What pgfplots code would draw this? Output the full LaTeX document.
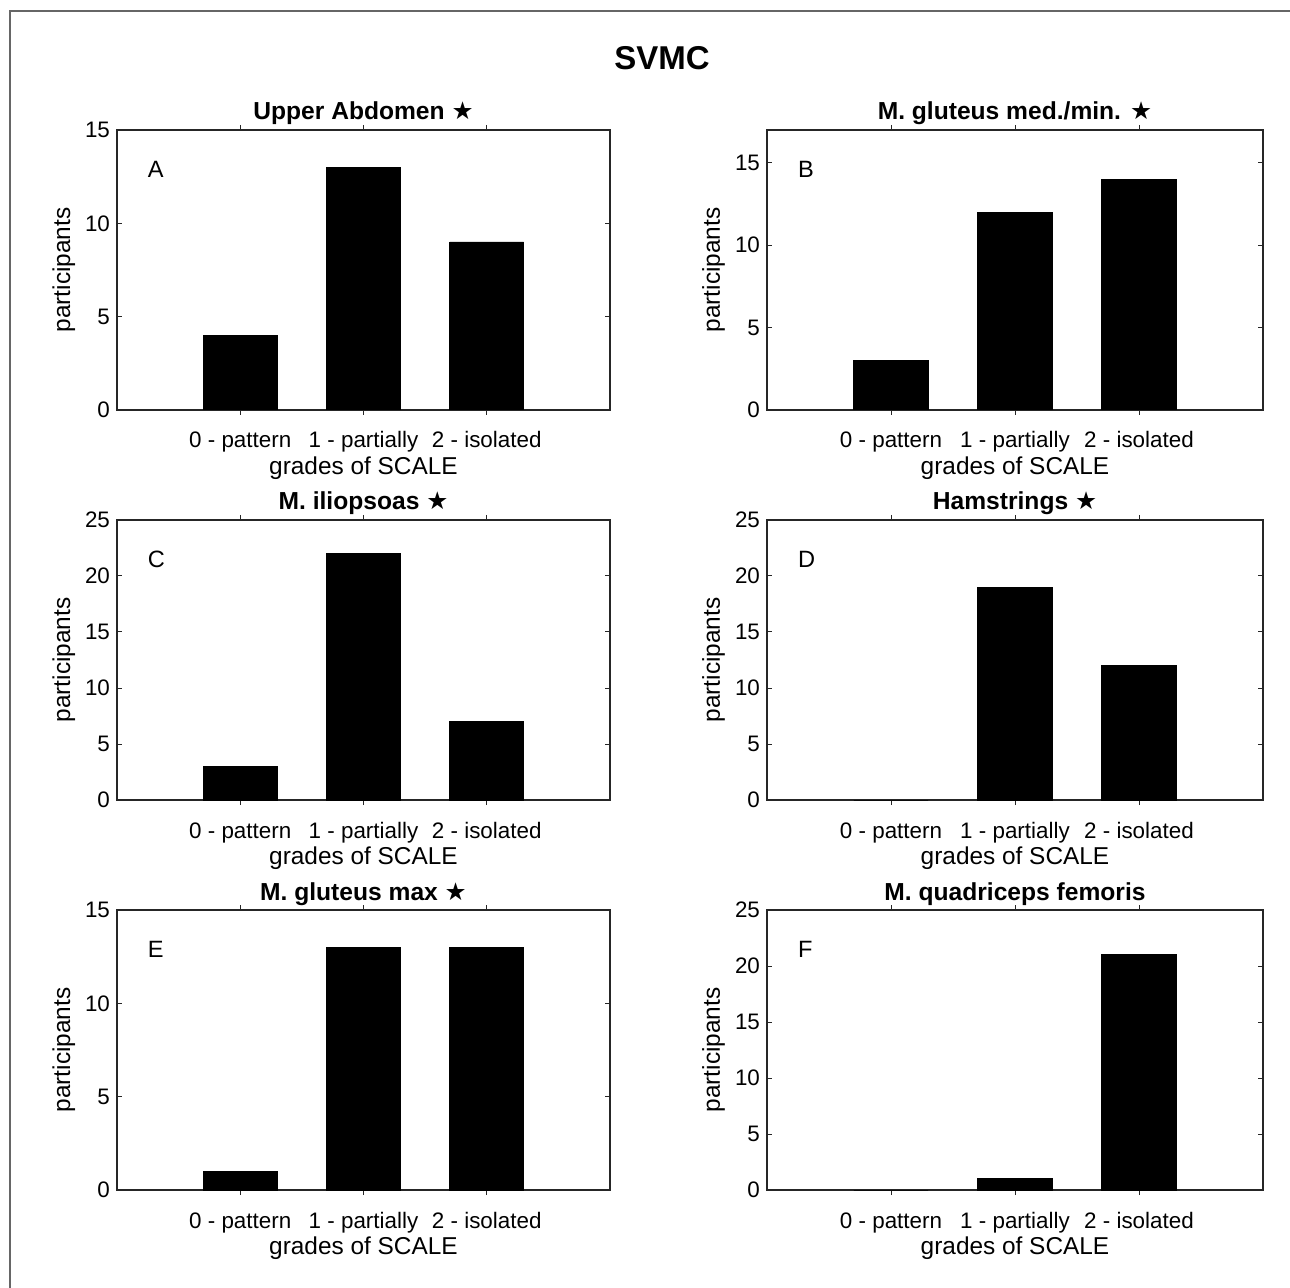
\documentclass[border=0pt]{standalone}
\usepackage{fontspec}
\setmainfont{Liberation Sans}
\newfontfamily\sym{DejaVu Sans}
\usepackage{pgfplots}
\pgfplotsset{compat=1.18}

\pgfplotsset{
  panel/.style={
    scale only axis,
    anchor=north west,
    height=140pt,
    xmin=0, xmax=4,
    ymin=0,
    axis line style={black!85, line width=0.6pt},
    tick style={black!85, line width=0.5pt},
    major tick length=2.5pt,
    xtick={1,2,3},
    xticklabels={0 - pattern, 1 - partially, 2 - isolated},
    xticklabel style={anchor=base, yshift=-16.5pt},
    /pgf/number format/assume math mode=true,
    ticklabel style={font=\fontsize{11.2}{13}\selectfont},
    label style={font=\fontsize{12.2}{14}\selectfont},
    xlabel={grades of SCALE},
    ylabel={participants},
    xlabel style={at={(axis description cs:0.5,-0.232)}, anchor=base},
    ylabel style={at={(axis description cs:-0.095,0.5)}, anchor=base},
    every axis title/.style={at={(0.5,1)}, anchor=base, yshift=5pt,
      font=\bfseries\fontsize{12.3}{14}\selectfont},
    ybar, bar width=0.6, bar shift=0pt,
  },
  blk/.style={fill=black, draw=black},
}
\newcommand{\letter}[1]{\node[anchor=west, inner sep=0pt,
  font=\fontsize{11.8}{13}\selectfont] at (axis description cs:0.062,0.86) {#1};}

\begin{document}
\begin{tikzpicture}
\useasboundingbox (0,0) rectangle (645pt,-644pt);
\draw[black!60, line width=1pt] (5pt,-644pt) -- (5pt,-5.5pt) -- (645pt,-5.5pt);
\node[anchor=base, font=\bfseries\fontsize{16.5}{19}\selectfont] at (331pt,-35pt) {SVMC};

% A
\begin{axis}[panel, at={(58.5pt,-65pt)}, width=246.5pt, ymax=15, ytick={0,5,10,15},
  title={Upper Abdomen {\sym ★}}]
\addplot[blk] coordinates {(1,4) (2,13) (3,9)};
\letter{A}
\end{axis}

% B
\begin{axis}[panel, at={(383.5pt,-65pt)}, width=248pt, ymax=17, ytick={0,5,10,15},
  title={M. gluteus med./min. {\sym ★}}]
\addplot[blk] coordinates {(1,3) (2,12) (3,14)};
\letter{B}
\end{axis}

% C
\begin{axis}[panel, at={(58.5pt,-260pt)}, width=246.5pt, ymax=25, ytick={0,5,...,25},
  title={M. iliopsoas {\sym ★}}]
\addplot[blk] coordinates {(1,3) (2,22) (3,7)};
\letter{C}
\end{axis}

% D
\begin{axis}[panel, at={(383.5pt,-260pt)}, width=248pt, ymax=25, ytick={0,5,...,25},
  title={Hamstrings {\sym ★}}]
\addplot[blk] coordinates {(1,0) (2,19) (3,12)};
\letter{D}
\end{axis}

% E
\begin{axis}[panel, at={(58.5pt,-455pt)}, width=246.5pt, ymax=15, ytick={0,5,10,15},
  title={M. gluteus max {\sym ★}}]
\addplot[blk] coordinates {(1,1) (2,13) (3,13)};
\letter{E}
\end{axis}

% F
\begin{axis}[panel, at={(383.5pt,-455pt)}, width=248pt, ymax=25, ytick={0,5,...,25},
  title={M. quadriceps femoris}]
\addplot[blk] coordinates {(1,0) (2,1) (3,21)};
\letter{F}
\end{axis}
\end{tikzpicture}
\end{document}
